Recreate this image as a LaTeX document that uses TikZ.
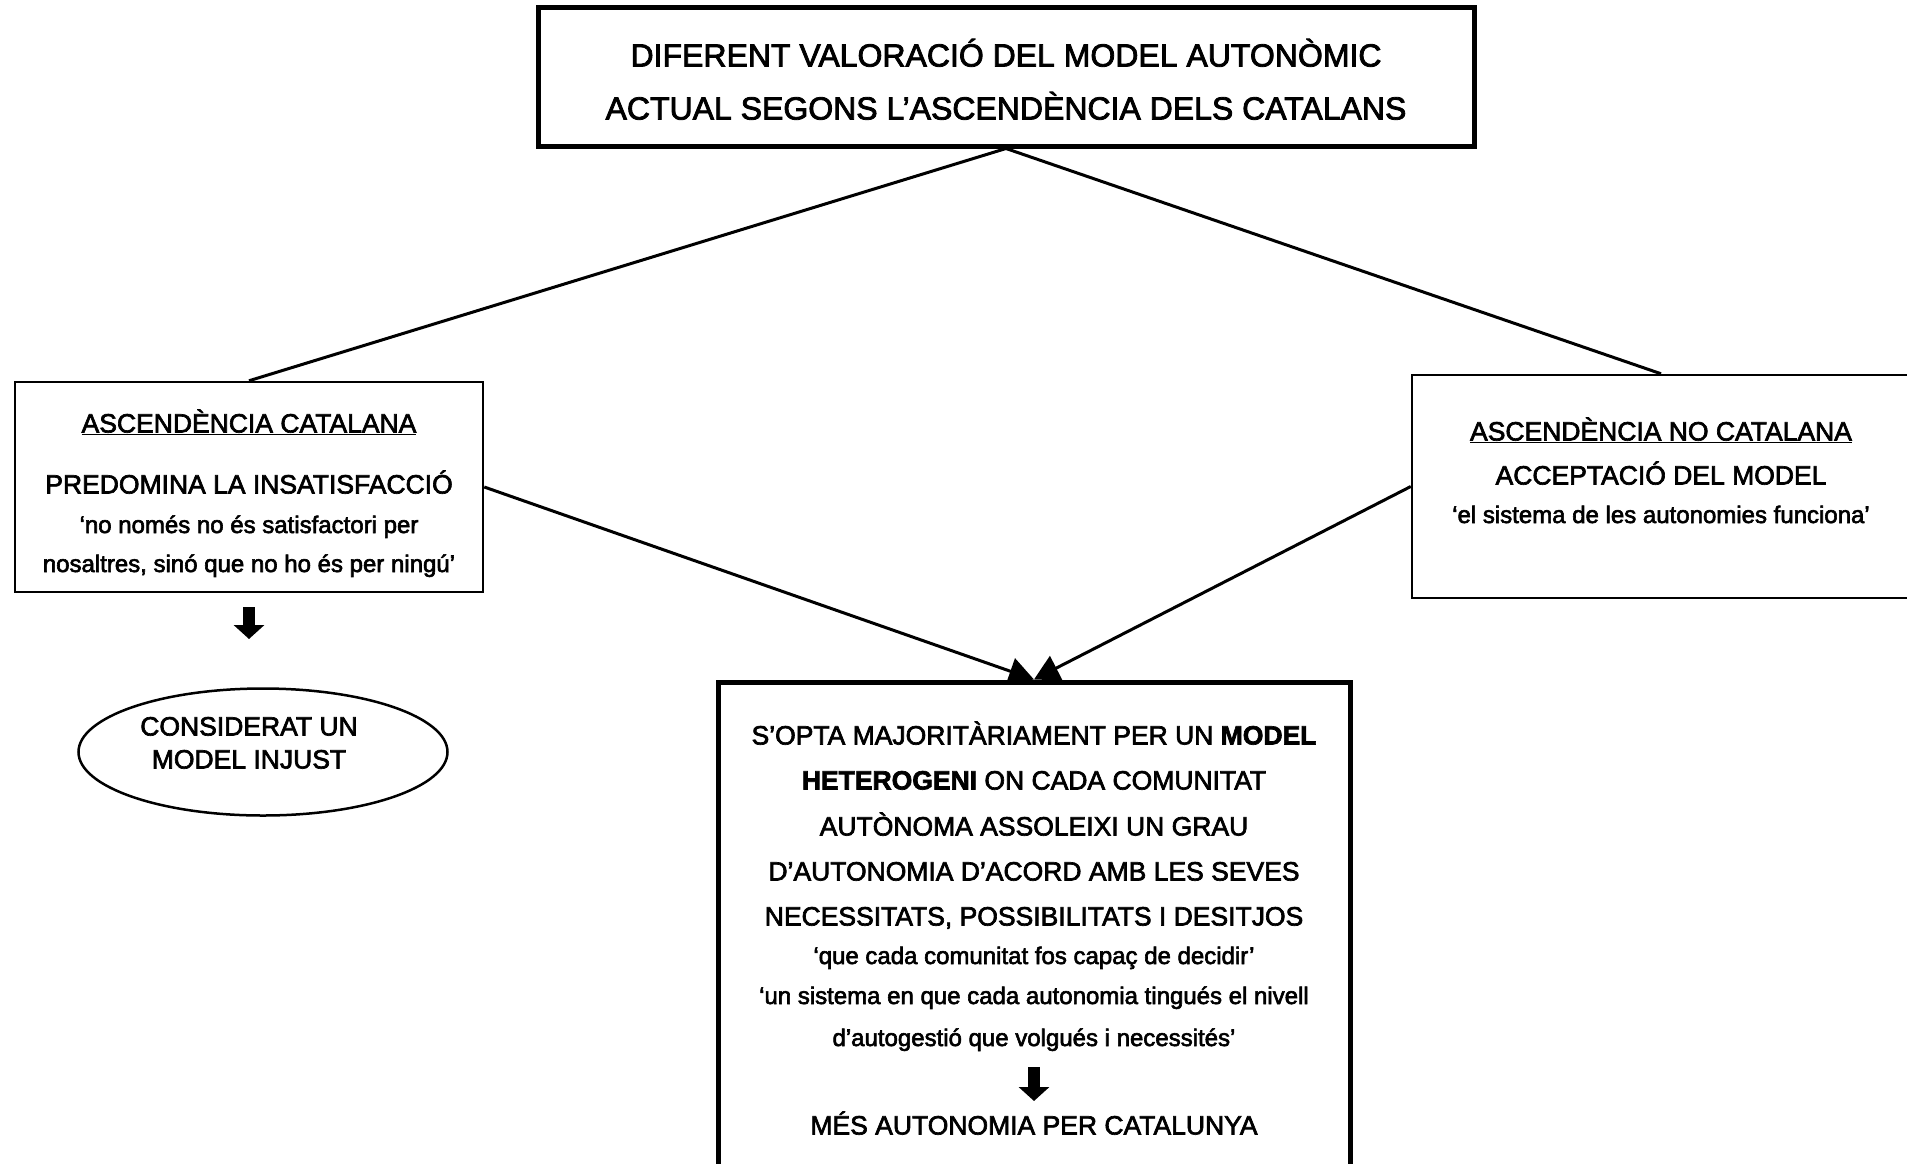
\documentclass[tikz,border=0pt]{standalone}
\usepackage{fontspec}
\setmainfont{Liberation Sans}
\newfontfamily\medfont{Liberation Sans}[FakeBold=2.5]
\usetikzlibrary{arrows.meta,shapes.geometric}
\begin{document}
\begin{tikzpicture}[x=1pt,y=-1pt,
  heavybox/.style={draw, line width=5pt, inner sep=0pt},
  lightbox/.style={draw, line width=2.5pt, inner sep=0pt},
  titletxt/.style={anchor=base, inner sep=0pt, font=\medfont\fontsize{32}{38}\selectfont},
  captxt/.style={anchor=base, inner sep=0pt, font=\medfont\fontsize{26.5}{32}\selectfont},
  quotetxt/.style={anchor=base, inner sep=0pt, font=\medfont\fontsize{24}{28}\selectfont},
  link/.style={line width=3pt},
  linkarrow/.style={line width=3pt, -{Triangle[width=27pt,length=25pt]}},
  blockarrow/.style={line width=12pt, -{Triangle[width=30pt,length=14pt]}}
]
\useasboundingbox (0,0) rectangle (1907,1163);

% boxes
\node[heavybox, minimum width=936pt, minimum height=139pt] (top) at (1006,76.5) {};
\node[lightbox, minimum width=468pt, minimum height=210pt] (left) at (249,487) {};
\node[lightbox, minimum width=498pt, minimum height=223pt] (right) at (1661,486.5) {};
\node[heavybox, minimum width=632pt, minimum height=498pt] (bot) at (1034,931) {};
\node[draw, line width=2.5pt, ellipse, minimum width=369pt, minimum height=127pt, inner sep=0pt] (ell) at (263,752) {};

% title
\node[titletxt] (t1) at (1006,66.5) {DIFERENT VALORACIÓ DEL MODEL AUTONÒMIC};
\node[titletxt] (t2) at (1006,119.5) {ACTUAL SEGONS L’ASCENDÈNCIA DELS CATALANS};

% left box
\node[captxt] (l1) at (249,432.5) {\underline{ASCENDÈNCIA CATALANA}};
\node[captxt] (l2) at (249,493.5) {PREDOMINA LA INSATISFACCIÓ};
\node[quotetxt] (l3) at (249,533) {‘no només no és satisfactori per};
\node[quotetxt] (l4) at (249,572) {nosaltres, sinó que no ho és per ningú’};

% right box
\node[captxt] (r1) at (1661,440.5) {\underline{ASCENDÈNCIA NO CATALANA}};
\node[captxt] (r2) at (1661,484.5) {ACCEPTACIÓ DEL MODEL};
\node[quotetxt] (r3) at (1661,523) {‘el sistema de les autonomies funciona’};

% ellipse
\node[captxt] (e1) at (249,735.5) {CONSIDERAT UN};
\node[captxt] (e2) at (249,768.5) {MODEL INJUST};

% bottom box
\node[captxt] (b1) at (1034,744.5) {S’OPTA MAJORITÀRIAMENT PER UN \textbf{MODEL}};
\node[captxt] (b2) at (1034,789.5) {\textbf{HETEROGENI} ON CADA COMUNITAT};
\node[captxt] (b3) at (1034,835.5) {AUTÒNOMA ASSOLEIXI UN GRAU};
\node[captxt] (b4) at (1034,880.5) {D’AUTONOMIA D’ACORD AMB LES SEVES};
\node[captxt] (b5) at (1034,925.5) {NECESSITATS, POSSIBILITATS I DESITJOS};
\node[quotetxt] (b6) at (1034,964) {‘que cada comunitat fos capaç de decidir’};
\node[quotetxt] (b7) at (1034,1004) {‘un sistema en que cada autonomia tingués el nivell};
\node[quotetxt] (b8) at (1034,1046) {d’autogestió que volgués i necessités’};
\node[captxt] (b9) at (1034,1134.5) {MÉS AUTONOMIA PER CATALUNYA};

% connectors
\draw[link] (top.south) -- (left.north);
\draw[link] (top.south) -- (right.north);
\draw[linkarrow] (left.east) -- (bot.north);
\draw[linkarrow] (right.west) -- (bot.north);

% block arrows
\coordinate (la1) at (249,607);
\coordinate (la2) at (249,639);
\draw[blockarrow] (la1) -- (la2);
\coordinate (ba1) at (1034,1067);
\coordinate (ba2) at (1034,1101);
\draw[blockarrow] (ba1) -- (ba2);
\end{tikzpicture}
\end{document}
